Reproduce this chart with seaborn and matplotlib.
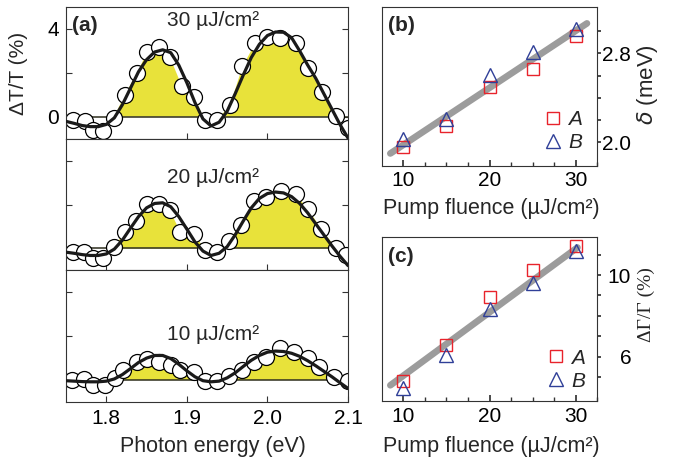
import numpy as np
import matplotlib
matplotlib.use("Agg")
import matplotlib.pyplot as plt
import seaborn as sns

# ---------------- data: panel (a) ----------------
E_fit = [1.75, 1.76, 1.77, 1.78, 1.79, 1.80, 1.81, 1.82, 1.83, 1.84, 1.85, 1.86,
         1.87, 1.88, 1.89, 1.90, 1.91, 1.92, 1.93, 1.94, 1.95, 1.96, 1.97, 1.98,
         1.99, 2.00, 2.01, 2.02, 2.03, 2.04, 2.05, 2.06, 2.07, 2.08, 2.09, 2.10]
fit30 = [-0.21, -0.30, -0.40, -0.45, -0.45, -0.35, -0.05, 0.55, 1.30, 2.05, 2.60, 2.95,
         3.05, 2.92, 2.35, 1.55, 0.65, -0.10, -0.42, -0.25, 0.25, 1.05, 1.90, 2.70,
         3.30, 3.70, 3.86, 3.85, 3.60, 3.00, 2.35, 1.75, 1.05, 0.35, -0.35, -0.97]
fit20 = [-0.17, -0.22, -0.28, -0.32, -0.32, -0.25, -0.03, 0.38, 0.92, 1.45, 1.85, 2.05,
         2.08, 1.90, 1.45, 0.88, 0.30, -0.12, -0.32, -0.22, 0.08, 0.62, 1.25, 1.85,
         2.28, 2.50, 2.57, 2.53, 2.36, 2.05, 1.62, 1.12, 0.62, 0.12, -0.35, -0.78]
fit10 = [-0.03, -0.05, -0.07, -0.08, -0.08, -0.05, 0.05, 0.25, 0.52, 0.80, 1.00, 1.12,
         1.12, 0.98, 0.72, 0.42, 0.15, -0.03, -0.08, -0.05, 0.10, 0.33, 0.62, 0.90,
         1.12, 1.27, 1.32, 1.30, 1.22, 1.08, 0.88, 0.65, 0.40, 0.15, -0.12, -0.38]

E30 = [1.759, 1.774, 1.784, 1.796, 1.809, 1.823, 1.838, 1.851, 1.865, 1.879, 1.894, 1.909,
       1.922, 1.938, 1.954, 1.969, 1.985, 2.000, 2.016, 2.035, 2.050, 2.068, 2.085, 2.0995]
V30 = [-0.14, -0.20, -0.59, -0.65, -0.06, 1.00, 1.98, 2.97, 3.20, 2.71, 1.38, 0.92,
       -0.14, -0.14, 0.55, 2.29, 3.35, 3.65, 3.58, 3.35, 2.21, 1.15, 0.02, -0.52]
E20 = [1.759, 1.772, 1.784, 1.796, 1.809, 1.823, 1.837, 1.851, 1.866, 1.879, 1.892, 1.909,
       1.923, 1.938, 1.952, 1.967, 1.983, 1.998, 2.017, 2.035, 2.050, 2.067, 2.085, 2.0975]
V20 = [-0.17, -0.17, -0.42, -0.42, 0.06, 0.74, 1.27, 2.03, 2.03, 1.73, 0.74, 0.67,
       -0.09, -0.17, 0.36, 1.05, 2.18, 2.33, 2.64, 2.48, 1.80, 0.89, 0.00, -0.30]
E10 = [1.757, 1.772, 1.784, 1.799, 1.811, 1.821, 1.838, 1.850, 1.865, 1.880, 1.892, 1.909,
       1.923, 1.938, 1.952, 1.969, 1.983, 1.998, 2.016, 2.033, 2.050, 2.064, 2.083, 2.0995]
V10 = [0.00, 0.03, -0.23, -0.23, 0.08, 0.46, 0.84, 0.94, 0.84, 0.68, 0.46, 0.38,
       -0.05, -0.05, 0.17, 0.46, 0.84, 1.07, 1.45, 1.29, 0.99, 0.61, 0.15, -0.05]

fluence_texts = ["30 µJ/cm²", "20 µJ/cm²", "10 µJ/cm²"]
x_ticks_a = [1.8, 1.9, 2.0, 2.1]
x_ticklabels_a = ["1.8", "1.9", "2.0", "2.1"]

# ---------------- data: panels (b), (c) ----------------
fluence = [10, 15, 20, 25, 30]
delta_A = [1.96, 2.15, 2.50, 2.66, 2.96]
delta_B = [2.03, 2.21, 2.61, 2.81, 3.02]
gamma_A = [4.82, 6.57, 8.91, 10.25, 11.42]
gamma_B = [4.45, 6.08, 8.33, 9.62, 11.19]
fit_b_x = [8.5, 31.3]
fit_b_y = [1.90, 3.07]
fit_c_x = [8.5, 30.2]
fit_c_y = [4.60, 11.35]

# ---------------- style ----------------
sns.set_theme(style="ticks")
plt.rcParams["font.family"] = ["Liberation Sans", "DejaVu Sans"]
plt.rcParams["mathtext.fontset"] = "dejavusans"
plt.rcParams["axes.edgecolor"] = "#333333"
plt.rcParams["axes.linewidth"] = 0.8

FS = 15
YELLOW = "#e8e23a"
RED = "#e8232b"
BLUE = "#2f3f98"
GRAY = "#9c9c9c"

fig = plt.figure(figsize=(6.74, 4.61), dpi=100)
W, H = 674.0, 461.0

def px_axes(l, t, r, b):
    return fig.add_axes([l / W, 1 - b / H, (r - l) / W, (b - t) / H])

# panel (a): three stacked axes
tops = [7, 138.7, 270.3]
hgt = 131.7
fits = [fit30, fit20, fit10]
Es = [E30, E20, E10]
Vs = [V30, V20, V10]
text_y = [0.90, 0.705, 0.515]
axes_a = []
for i in range(3):
    ax = px_axes(66, tops[i], 348, tops[i] + hgt)
    axes_a.append(ax)
    Ex = np.array(Es[i]); Vy = np.array(Vs[i])
    ax.fill_between(Ex, Vy, 0, where=Vy > 0, interpolate=True, color=YELLOW, lw=0, zorder=1)
    ax.axhline(0, color="#2e2e1e", lw=1.1, zorder=1.5)
    sns.lineplot(x=Es[i], y=Vs[i], ax=ax, marker="o", linestyle="", ms=11.5,
                 mfc="white", mec="black", mew=0.9, zorder=2)
    sns.lineplot(x=E_fit, y=fits[i], ax=ax, color="#1a1a1a", lw=2.3, zorder=3)
    ax.set_xlim(1.75, 2.1)
    ax.set_ylim(-1, 5)
    ax.set_xticks(x_ticks_a)
    ax.set_yticks([0, 2, 4])
    ax.tick_params(direction="in", length=4, width=0.8, labelsize=FS,
                   right=True, top=False, pad=5, colors="#333333", labelcolor="black")
    if i == 0:
        ax.set_yticklabels(["0", "", "4"])
    else:
        ax.set_yticklabels([])
    if i == 2:
        ax.set_xticklabels(x_ticklabels_a)
    else:
        ax.set_xticklabels([])
    ax.set_xlabel("")
    ax.set_ylabel("")
    ax.text(0.52, text_y[i], fluence_texts[i], transform=ax.transAxes,
            ha="center", va="center", fontsize=FS)
axes_a[0].text(0.021, 0.93, "(a)", transform=axes_a[0].transAxes, ha="left", va="top",
               fontsize=15, fontweight="bold")

# panels (b) and (c)
def side_panel(ax, yA, yB, fx, fy, ylim, yticks, ylabels, label, leg_anchor):
    sns.lineplot(x=fx, y=fy, ax=ax, color=GRAY, lw=4.8, zorder=1)
    sns.lineplot(x=fluence, y=yA, ax=ax, marker="s", linestyle="", ms=8.5,
                 mfc="none", mec=RED, mew=1.0, zorder=3, label="A")
    sns.lineplot(x=fluence, y=yB, ax=ax, marker="^", linestyle="", ms=10.5,
                 mfc="none", mec=BLUE, mew=1.0, zorder=3, label="B")
    ax.set_xlim(7.5, 32.5)
    ax.set_ylim(*ylim)
    ax.set_xticks([10, 20, 30])
    ax.set_xticks(np.arange(10, 32.6, 2.5), minor=True)
    ax.set_xticklabels(["10", "20", "30"])
    ax.set_yticks(yticks)
    ax.set_yticklabels(ylabels)
    ax.tick_params(axis="x", which="both", direction="in", labelsize=FS, pad=4,
                   colors="#333333", labelcolor="black")
    ax.tick_params(axis="x", which="major", length=4)
    ax.tick_params(axis="x", which="minor", length=3)
    ax.tick_params(axis="y", direction="out", length=3, left=False, right=True,
                   labelleft=False, labelright=True, labelsize=FS, pad=21.4,
                   colors="#333333", labelcolor="black")
    for t in ax.get_yticklabels():
        t.set_ha("right")
    ax.set_xlabel("")
    ax.set_ylabel("")
    ax.text(0.03, 0.94, label, transform=ax.transAxes, ha="left", va="top",
            fontsize=15, fontweight="bold")
    ax.legend(loc="lower right", bbox_to_anchor=leg_anchor, frameon=False,
              prop={"style": "italic", "size": FS}, handlelength=1.0,
              handletextpad=0.25, labelspacing=0.2, borderpad=0, borderaxespad=0)

ax_b = px_axes(381.7, 6.7, 597.3, 165.7)
side_panel(ax_b, delta_A, delta_B, fit_b_x, fit_b_y, (1.79, 3.22),
           [2.0, 2.2, 2.4, 2.6, 2.8, 3.0], ["2.0", "", "", "", "2.8", ""],
           "(b)", (0.93, 0.084))

ax_c = px_axes(381.7, 237.3, 597.3, 401)
side_panel(ax_c, gamma_A, gamma_B, fit_c_x, fit_c_y, (3.83, 11.85),
           [5, 6, 7, 8, 9, 10, 11], ["", "6", "", "", "", "10", ""],
           "(c)", (0.943, 0.063))

# axis labels
def ftext(x, y, s, **kw):
    fig.text(x / W, 1 - y / H, s, ha="center", va="center", **kw)

ftext(18, 73, "ΔT/T (%)", rotation=90, fontsize=FS)
ftext(213, 446, "Photon energy (eV)", fontsize=15.5)
ftext(491, 208, "Pump fluence (µJ/cm²)", fontsize=15.5)
ftext(491, 446, "Pump fluence (µJ/cm²)", fontsize=15.5)
ftext(648, 85, r"$\delta$ (meV)", rotation=90, fontsize=16)
ftext(646, 305, "ΔΓ/Γ (%)", rotation=90, fontsize=14, family="Liberation Serif")

fig.savefig("out.png", dpi=100)
